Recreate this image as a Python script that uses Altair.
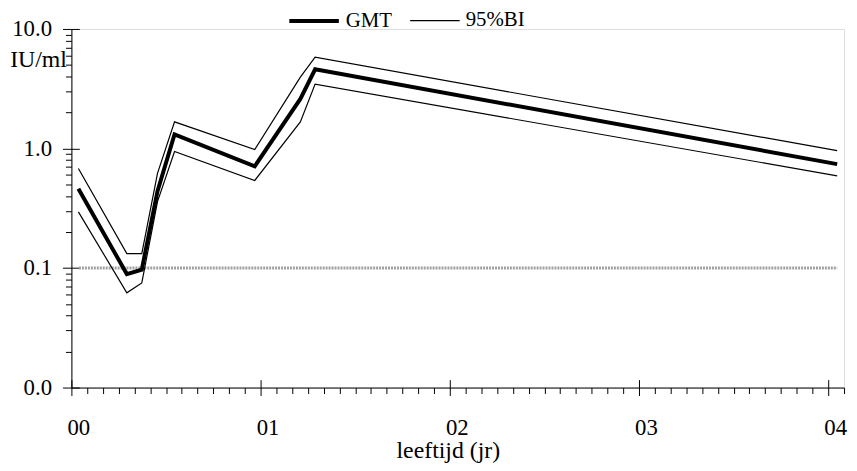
import altair as alt
import pandas as pd

# ---- data ----
age = [0.037, 0.293, 0.372, 0.455, 0.545, 0.969, 1.21, 1.288, 4.047]
gmt = [0.46, 0.089, 0.097, 0.44, 1.31, 0.71, 2.6, 4.6, 0.74]
upper = [0.68, 0.132, 0.132, 0.62, 1.67, 0.98, 3.95, 5.8, 0.96]
lower = [0.295, 0.062, 0.075, 0.36, 0.945, 0.54, 1.67, 3.46, 0.59]

x_major = [0, 1, 2, 3, 4]
x_minor = [i / 12 for i in range(50) if i % 12 != 0]
y_major = [0.01, 0.1, 1.0, 10.0]
y_minor = [m * 10.0 ** e for e in (-2, -1, 0) for m in range(2, 10)]

ref_level = [0.1]
ref_start = [0.04]
ref_end = [4.047]

FONT = "Liberation Serif"

rows = []
for name, serie, vals in (("lower", "95%BI", lower), ("upper", "95%BI", upper), ("GMT", "GMT", gmt)):
    for a, v in zip(age, vals):
        rows.append({"age": a, "val": v, "line": name, "serie": serie})
df = pd.DataFrame(rows)
ref = pd.DataFrame({"x0": ref_start, "x1": ref_end, "y": ref_level})

xscale = alt.Scale(domain=[0, 49 / 12], nice=False, zero=False)
yscale = alt.Scale(type="log", domain=[0.01, 10], nice=False)

rule = alt.Chart(ref).mark_rule(color="#a0a0a0", strokeWidth=3, strokeDash=[2, 1]).encode(
    x=alt.X("x0:Q", scale=xscale, axis=alt.Axis(
        orient="bottom", values=x_major, tickSize=16, offset=-8, domain=False, grid=False,
        labelExpr="'0' + datum.value", labelFont=FONT, labelFontSize=23, labelColor="black",
        labelBaseline="alphabetic", labelPadding=39, labelOffset=7, labelAlign="center",
        labelFlush=False, tickColor="black", title="leeftijd (jr)", titleFont=FONT, titleFontSize=24,
        titleFontWeight="normal", titleColor="black", titleX=380, titleY=79,
        titleBaseline="alphabetic", titleAlign="center")),
    x2="x1:Q",
    y=alt.Y("y:Q", scale=yscale, axis=alt.Axis(
        orient="left", values=y_major, tickSize=17, offset=-8, domain=False, grid=False,
        format=".1f", labelFont=FONT, labelFontSize=23, labelColor="black",
        labelBaseline="middle", labelPadding=11, labelFlush=False, tickColor="black",
        title="IU/ml", titleFont=FONT, titleFontSize=24, titleFontWeight="normal",
        titleColor="black", titleAngle=0, titleAlign="right", titleBaseline="middle",
        titleX=-13, titleY=31)),
)

lines = alt.Chart(df).mark_line(color="black", strokeJoin="miter").encode(
    x=alt.X("age:Q", scale=xscale, axis=alt.Axis(
        orient="bottom", values=x_minor, tickSize=6, labels=False, domain=True,
        domainColor="black", tickColor="black", grid=False, title=None)),
    y=alt.Y("val:Q", scale=yscale, axis=alt.Axis(
        orient="left", values=y_minor, tickSize=6, labels=False, domain=True,
        domainColor="black", tickColor="black", grid=False, title=None)),
    detail="line:N",
    strokeWidth=alt.StrokeWidth("serie:N", scale=alt.Scale(domain=["GMT", "95%BI"], range=[4, 1.2]),
        legend=alt.Legend(title=None, orient="none", direction="horizontal", legendX=218, legendY=-35,
                          symbolType="stroke", symbolSize=2500, symbolStrokeColor="black",
                          labelFont=FONT, labelFontSize=21, labelColor="black", labelOffset=5,
                          columnPadding=15, padding=0)),
)

chart = alt.layer(rule, lines).resolve_axis(x="independent", y="independent").properties(
    width=780, height=362,
    padding={"left": 64, "top": 19, "right": 5, "bottom": 75},
    autosize=alt.AutoSizeParams(type="none"),
).configure_view(stroke=None).configure(font=FONT)

chart.save("out.html", embed_options={"renderer": "svg", "actions": False})
